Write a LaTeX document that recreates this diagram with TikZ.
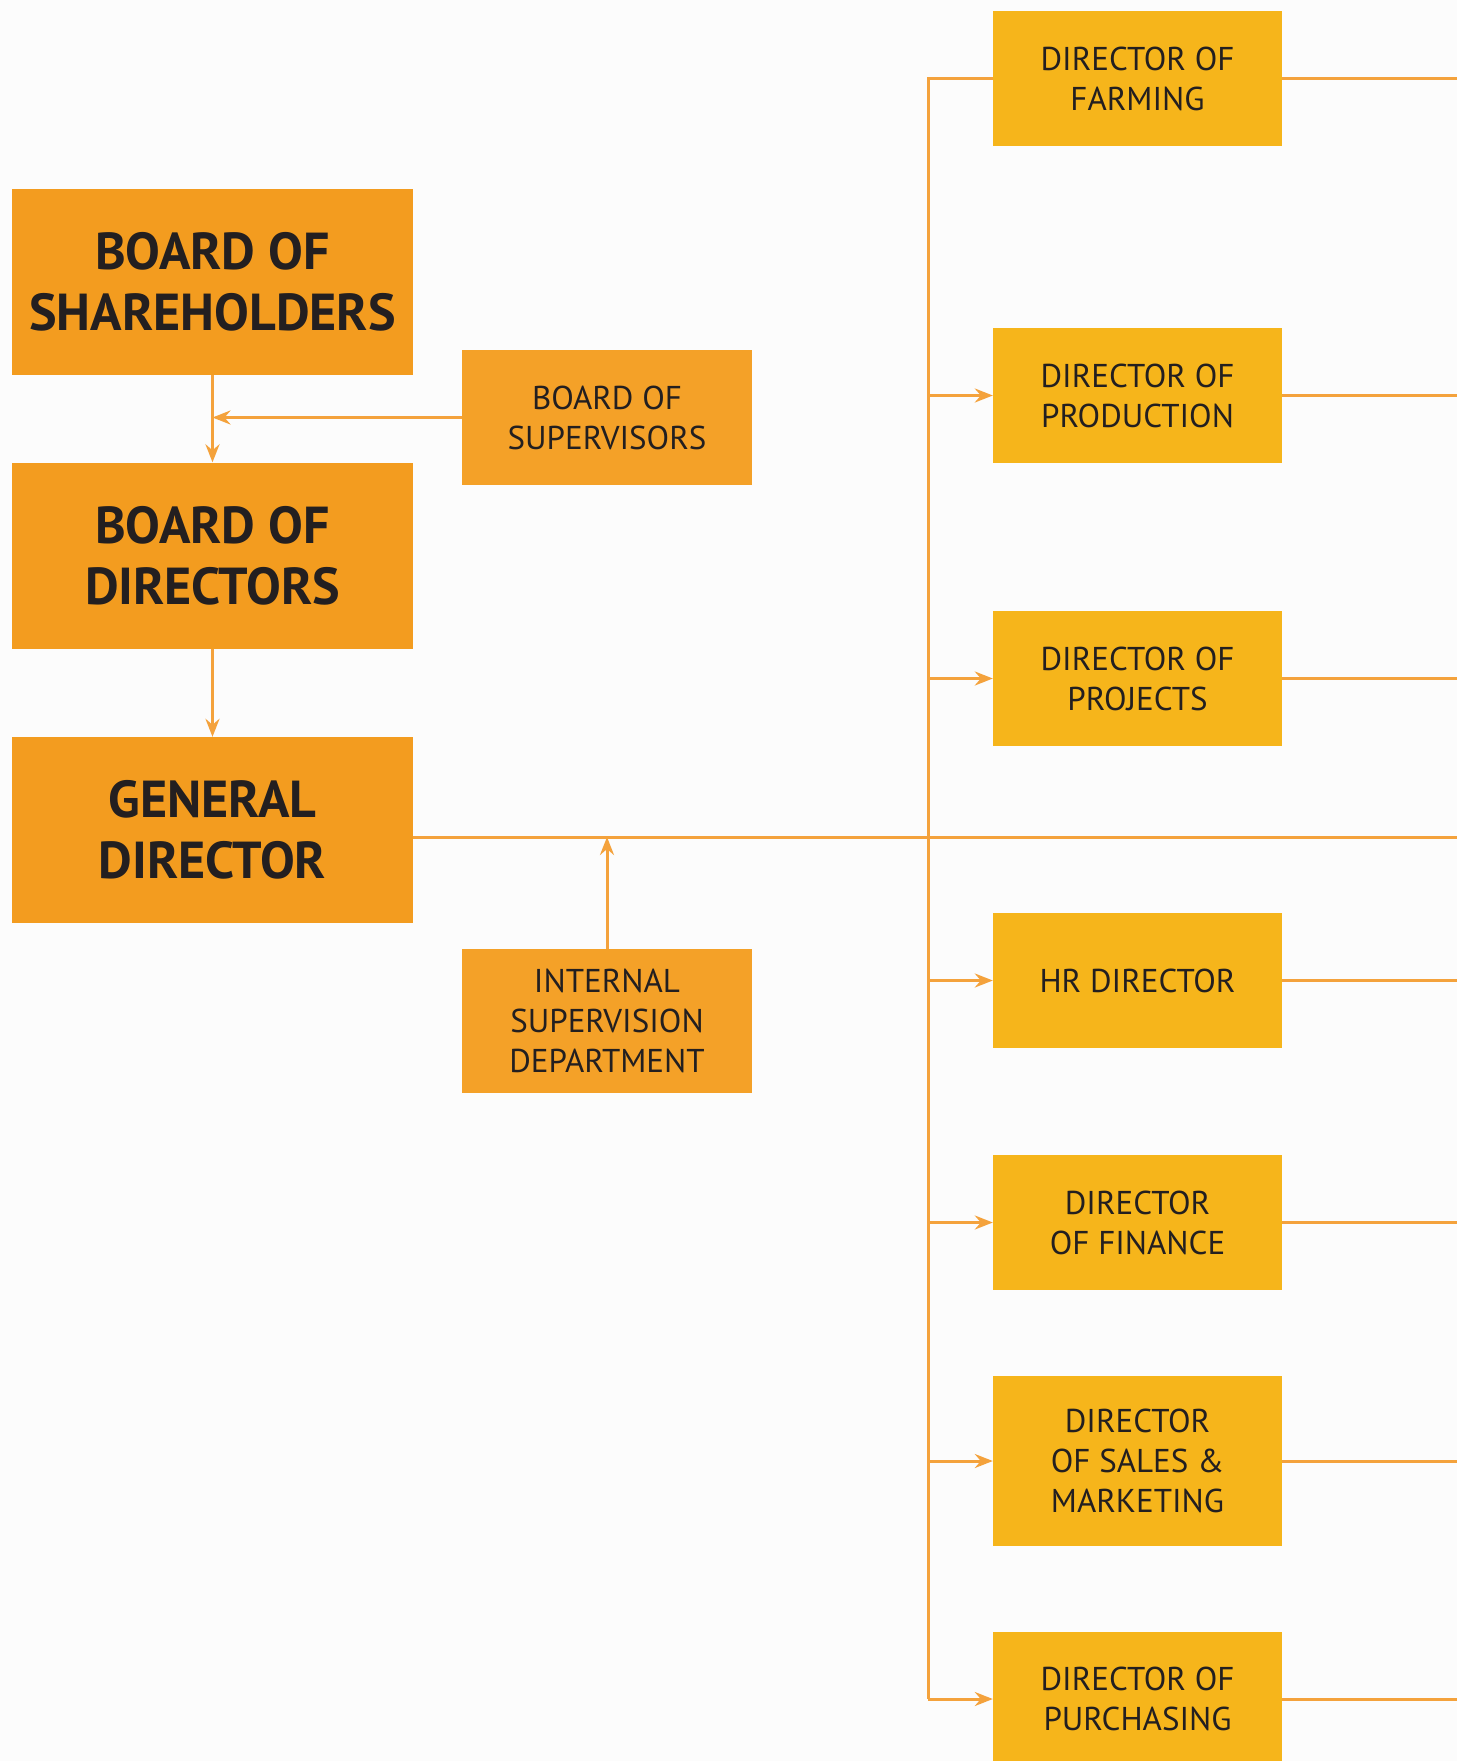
\documentclass[tikz,border=0pt]{standalone}
\usepackage{fontspec}
\setmainfont{PT Sans}
\usetikzlibrary{arrows.meta}
\definecolor{boxdark}{HTML}{F39C1F}
\definecolor{boxmid}{HTML}{F4A128}
\definecolor{boxgold}{HTML}{F6B51B}
\definecolor{linkcol}{HTML}{F4A23C}
\definecolor{inkcol}{HTML}{231F20}
\tikzset{
  bigbox/.style={rectangle, fill=boxdark, minimum width=401pt, minimum height=186pt,
    align=center, text=inkcol, font=\fontsize{52}{61}\selectfont\bfseries, inner sep=0pt},
  sidebox/.style={rectangle, fill=boxmid, minimum width=290pt, minimum height=135pt,
    align=center, text=inkcol, font=\fontsize{33}{40}\selectfont, inner sep=0pt},
  dirbox/.style={rectangle, fill=boxgold, minimum width=289pt, minimum height=135pt,
    align=center, text=inkcol, font=\fontsize{33}{40}\selectfont, inner sep=0pt},
  link/.style={draw=linkcol, line width=3pt},
  arr/.style={link, -{Stealth[length=18pt, width=14pt, inset=6pt]}}
}
\begin{document}
\begin{tikzpicture}[x=1pt, y=-1pt]
\fill[white!99!black] (0,0) rectangle (1457,1761);
\useasboundingbox (0,0) rectangle (1457,1761);
\clip (0,0) rectangle (1457,1761);

% governance column
\node[bigbox] (sh)  at (212.5,282)   {BOARD OF\\SHAREHOLDERS};
\node[bigbox] (bod) at (212.5,555.5) {BOARD OF\\DIRECTORS};
\node[bigbox] (gd)  at (212.5,830)   {GENERAL\\DIRECTOR};
\node[sidebox] (sup) at (607,417.5)  {BOARD OF\\SUPERVISORS};
\node[sidebox, minimum height=144pt] (isd) at (607,1021) {INTERNAL\\SUPERVISION\\DEPARTMENT};

% directors column
\node[dirbox] (farm)  at (1137.5,78.5)   {DIRECTOR OF\\FARMING};
\node[dirbox] (prod)  at (1137.5,395.5)  {DIRECTOR OF\\PRODUCTION};
\node[dirbox] (proj)  at (1137.5,678.5)  {DIRECTOR OF\\PROJECTS};
\node[dirbox] (hr)    at (1137.5,980.5)  {HR DIRECTOR};
\node[dirbox] (fin)   at (1137.5,1222.5) {DIRECTOR\\OF FINANCE};
\node[dirbox, minimum height=170pt] (sales) at (1137.5,1461) {DIRECTOR\\OF SALES \&\\MARKETING};
\node[dirbox] (purch) at (1137.5,1699)   {DIRECTOR OF\\PURCHASING};

% reference coordinates for the bus lines
\coordinate (bus)   at (928,0);
\coordinate (edge)  at (1457,0);
\coordinate (mainR) at (1457,837);

% governance links
\draw[arr] (sh.south) -- (bod.north);
\draw[arr] (sup.west) -- (sup.west -| sh.south);
\draw[arr] (bod.south) -- (gd.north);
\draw[link] (gd.east |- mainR) -- (mainR);
\draw[arr] (isd.north) -- (isd.north |- mainR);

% vertical bus feeding the directors
\draw[link] (farm.west) -- (farm.west -| bus) -- (purch.west -| bus);
\foreach \d in {prod,proj,hr,fin,sales,purch}
  \draw[arr] (\d.west -| bus) -- (\d.west);

% outgoing lines on the right
\foreach \d in {farm,prod,proj,hr,fin,sales,purch}
  \draw[link] (\d.east) -- (\d.east -| edge);
\end{tikzpicture}
\end{document}
